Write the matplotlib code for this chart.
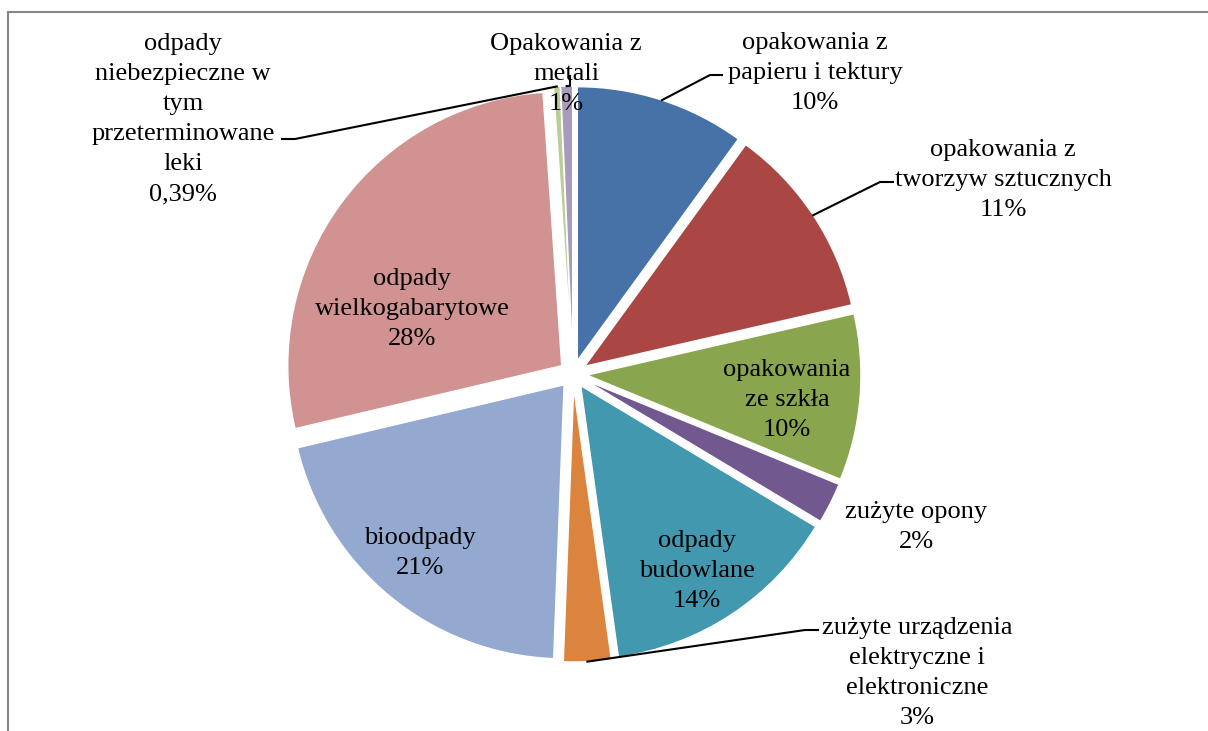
import matplotlib.pyplot as plt
from matplotlib.patches import Rectangle
import numpy as np

plt.rcParams['font.family'] = ['Liberation Serif', 'DejaVu Serif']

W, H = 1208, 731

# slices clockwise from 12 o'clock
categories = ['opakowania z\npapieru i tektury',
              'opakowania z\ntworzyw sztucznych',
              'opakowania\nze szkła',
              'zużyte opony',
              'odpady\nbudowlane',
              'zużyte urządzenia\nelektryczne i\nelektroniczne',
              'bioodpady',
              'odpady\nwielkogabarytowe',
              'odpady\nniebezpieczne w\ntym\nprzeterminowane\nleki',
              'Opakowania z\nmetali']
shares = [10.0, 11.4, 9.8, 2.4, 14.2, 2.8, 20.7, 27.6, 0.39, 0.7]
pct_labels = ['10%', '11%', '10%', '2%', '14%', '3%', '21%', '28%', '0,39%', '1%']
colors = ['#4672A8', '#AA4643', '#89A54E', '#71588F', '#4198AF',
          '#DB843D', '#93A9CF', '#D19392', '#B9CD96', '#A99BBD']

# label placement in pixels (x, y from top) and optional leader elbow
label_pos = [(815, 73), (1003, 180), (787, 400), (916, 527), (697, 571),
             (917, 673), (420, 553), (412, 309), (183, 119), (566, 74)]
leaders = {0: [(722, 75), (710, 75)],
           1: [(893, 182), (880, 182)],
           5: [(818, 630), (805, 630)],
           8: [(282, 139), (295, 139)],
           9: [(570, 76), (570, 86)]}

fig = plt.figure(figsize=(W / 100, H / 100), dpi=100)
ax = fig.add_axes([0, 0, 1, 1])

cx, cy, R = 573, H - 374, 274
wedges, _ = ax.pie(shares, colors=colors, startangle=90, counterclock=False,
                   center=(cx, cy), radius=R, explode=[14] * len(shares),
                   wedgeprops=dict(edgecolor='white', linewidth=1), frame=True)
ax.set_xlim(0, W)
ax.set_ylim(0, H)
ax.set_aspect('equal')
ax.axis('off')

for i, w in enumerate(wedges):
    x, y = label_pos[i]
    ax.text(x, H - y, categories[i] + '\n' + pct_labels[i], ha='center', va='center',
            multialignment='center', fontsize=19, linespacing=1.47, color='black', zorder=5)
    if i in leaders:
        ang = np.deg2rad((w.theta1 + w.theta2) / 2)
        ex = w.center[0] + w.r * np.cos(ang)
        ey = w.center[1] + w.r * np.sin(ang)
        pts = [(px, H - py) for px, py in leaders[i]] + [(ex, ey)]
        xs, ys = zip(*pts)
        ax.plot(xs, ys, color='black', lw=1.5, zorder=4)

fig.patches.append(Rectangle((8 / W, -0.02), 1.1, (H - 12) / H + 0.02, transform=fig.transFigure,
                             fill=False, edgecolor='#868686', lw=1.5))

fig.savefig('out.png', dpi=100)
